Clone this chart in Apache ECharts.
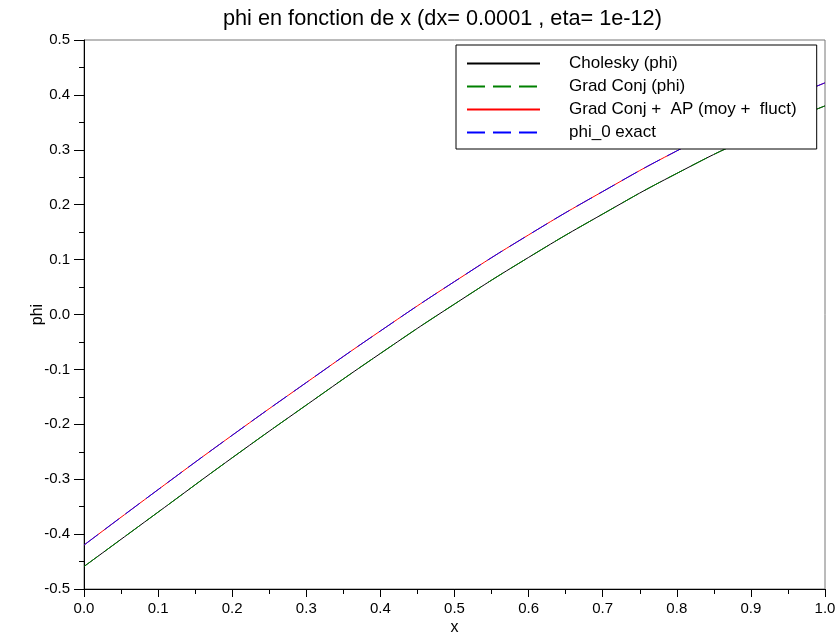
<!DOCTYPE html>
<html><head><meta charset="utf-8">
<script src="https://cdn.jsdelivr.net/npm/echarts@6/dist/echarts.min.js"></script>
<style>html,body{margin:0;padding:0;background:#fff}#c{width:840px;height:639px}</style>
</head><body><div id="c"></div>
<script>
const xs         = [0.0, 0.1, 0.2, 0.3, 0.4, 0.5, 0.6, 0.7, 0.8, 0.9, 1.0];
const cholesky   = [-0.459, -0.360, -0.261, -0.165, -0.071, 0.019, 0.104, 0.183, 0.257, 0.323, 0.380];
const gradConj   = [-0.459, -0.360, -0.261, -0.165, -0.071, 0.019, 0.104, 0.183, 0.257, 0.323, 0.380];
const gradConjAP = [-0.420, -0.319, -0.220, -0.124, -0.030, 0.060, 0.145, 0.224, 0.298, 0.364, 0.422];
const phi0Exact  = [-0.420, -0.319, -0.220, -0.124, -0.030, 0.060, 0.145, 0.224, 0.298, 0.364, 0.422];
const names  = ['Cholesky (phi)', 'Grad Conj (phi)', 'Grad Conj + AP (moy + fluct)', 'phi_0 exact'];
const labels = ['Cholesky (phi)', 'Grad Conj (phi)', 'Grad Conj +  AP (moy +  fluct)', 'phi_0 exact'];
const colors = ['#000000', '#008000', '#ff0000', '#0000ff'];
const dashes = ['solid', [18, 8], 'solid', [18, 8]];
const titleText = 'phi en fonction de x (dx= 0.0001 , eta= 1e-12)';

const pairs = arr => xs.map((x, i) => [x, arr[i]]);
const FONT = 'Liberation Sans';
const chart = echarts.init(document.getElementById('c'), null, {renderer: 'canvas'});
const fmt = v => (Math.abs(v) < 1e-9 ? '0.0' : v.toFixed(1));
const seriesData = [cholesky, gradConj, gradConjAP, phi0Exact];
chart.setOption({
  animation: false,
  backgroundColor: '#fff',
  color: colors,
  title: {text: titleText, left: 223, top: 8, padding: 0,
    textStyle: {fontFamily: FONT, fontSize: 21.7, fontWeight: 'normal', color: '#000'}},
  grid: {left: 84, right: 15, top: 40, bottom: 50, show: true, borderColor: '#777', borderWidth: 1,
    outerBoundsMode: 'none', containLabel: false},
  legend: {
    orient: 'vertical', left: 456, top: 45, padding: [10, 20, 8, 10], itemGap: 6,
    itemWidth: 73, itemHeight: 14, borderColor: '#000', borderWidth: 1, backgroundColor: '#fff',
    itemStyle: {opacity: 0},
    formatter: n => labels[names.indexOf(n)],
    textStyle: {fontFamily: FONT, fontSize: 17, color: '#000', padding: [0, 0, 0, 24]},
    data: names
  },
  xAxis: {
    type: 'value', min: 0, max: 1, interval: 0.1,
    name: 'x', nameLocation: 'middle', nameGap: 31, nameMoveOverlap: false,
    nameTextStyle: {fontFamily: FONT, fontSize: 16, color: '#000'},
    axisLine: {show: true, onZero: false, lineStyle: {color: '#000', width: 1}},
    axisTick: {show: true, inside: false, length: 8, lineStyle: {color: '#000'}},
    minorTick: {show: true, splitNumber: 2, length: 5, lineStyle: {color: '#000'}},
    axisLabel: {fontFamily: FONT, fontSize: 15, color: '#000', margin: 12, formatter: fmt},
    splitLine: {show: false}
  },
  yAxis: {
    type: 'value', min: -0.5, max: 0.5, interval: 0.1,
    name: 'phi', nameLocation: 'middle', nameGap: 38, nameRotate: 90, nameMoveOverlap: false,
    nameTextStyle: {fontFamily: FONT, fontSize: 16, color: '#000'},
    axisLine: {show: true, onZero: false, lineStyle: {color: '#000', width: 1}},
    axisTick: {show: true, inside: false, length: 10, lineStyle: {color: '#000'}},
    minorTick: {show: true, splitNumber: 2, length: 5, lineStyle: {color: '#000'}},
    axisLabel: {fontFamily: FONT, fontSize: 15, color: '#000', margin: 14, formatter: fmt},
    splitLine: {show: false}
  },
  series: names.map((n, i) => ({
    name: n, type: 'line', data: pairs(seriesData[i]), smooth: true, symbol: 'none',
    lineStyle: {color: colors[i], width: 1, type: dashes[i]}, itemStyle: {color: colors[i]}
  }))
});
</script></body></html>
